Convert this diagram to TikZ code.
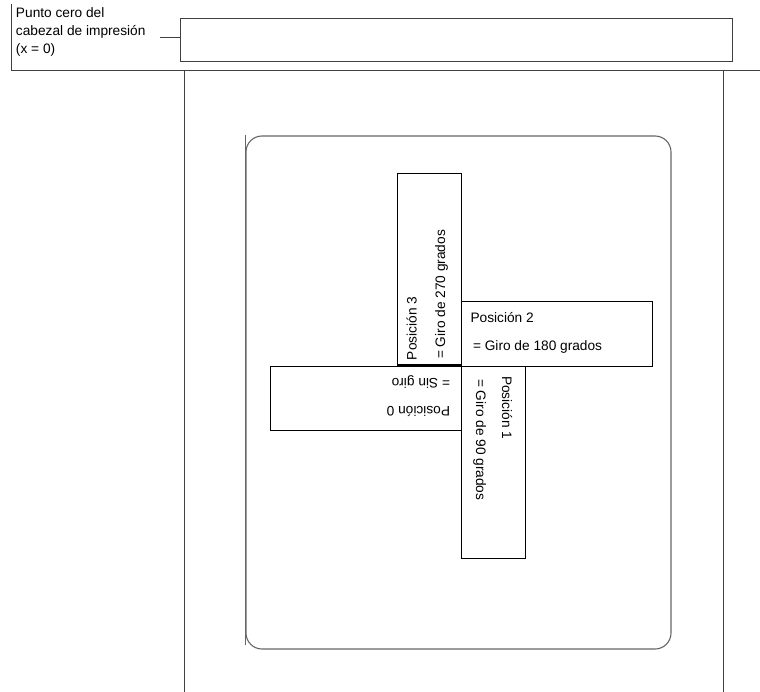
\documentclass[tikz,border=0pt]{standalone}
\usepackage{fontspec}
\setmainfont{Liberation Sans}
\begin{document}
\begin{tikzpicture}[x=1pt,y=-1pt,
  every node/.style={font=\fontsize{13.7}{17.6}\selectfont, inner sep=0pt, outer sep=0pt},
  frame/.style={draw=black!75, line width=1pt},
  posbox/.style={draw=black, line width=1pt, rectangle, inner sep=0pt},
  rbox/.style={draw=black!60, line width=1.1pt, rounded corners=16pt},
  lbl/.style={anchor=base west}
]
\useasboundingbox (0,0) rectangle (760,692);
% top header area
\node[align=left, anchor=north west, font=\fontsize{13.7}{17.9}\selectfont] (zero) at (16,7.6) {Punto cero del\\cabezal de impresión\\(x = 0)};
\coordinate (lt) at (11.7,4);
\coordinate (lb) at (11.7,71);
\coordinate (rr) at (760,71);
\draw[frame] (lt) -- (lb) -- (rr);
\node[posbox, draw=black!75, minimum width=552.5pt, minimum height=43pt] (head) at (456.5,40.5) {};
\coordinate (tk) at (159.5,37.5);
\draw[frame] (tk) -- (tk -| head.west);
% page edges
\coordinate (pl1) at (184.3,71);
\coordinate (pl2) at (184.3,692);
\coordinate (pr1) at (723.3,71);
\coordinate (pr2) at (723.3,692);
\draw[frame] (pl1) -- (pl2);
\draw[frame] (pr1) -- (pr2);
% label / rounded rect
\draw[rbox] (246,136) rectangle (671,649);
\coordinate (el1) at (245.3,135);
\coordinate (el2) at (245.3,645);
\draw[draw=black!60, line width=1.1pt] (el1) -- (el2);
% position boxes
\node[posbox, minimum width=64pt, minimum height=191pt] (p3) at (429,269.5) {};
\node[posbox, minimum width=191pt, minimum height=64pt] (p2) at (556.5,334) {};
\node[posbox, minimum width=191pt, minimum height=64pt] (p0) at (365.5,398) {};
\node[posbox, minimum width=64pt, minimum height=192pt] (p1) at (493,462) {};
% texts
\node[lbl, rotate=90] (t3a) at (416.7,360) {Posición 3};
\node[lbl, rotate=90] (t3b) at (445,359) {= Giro de 270 grados};
\node[lbl] (t2a) at (470.5,323) {Posición 2};
\node[lbl] (t2b) at (473,350.5) {= Giro de 180 grados};
\node[lbl, rotate=180] (t0a) at (450,378) {= Sin giro};
\node[lbl, rotate=180] (t0b) at (450,406.5) {Posición 0};
\node[lbl, rotate=-90] (t1a) at (502,376) {Posición 1};
\node[lbl, rotate=-90] (t1b) at (476,379) {= Giro de 90 grados};
\end{tikzpicture}
\end{document}
